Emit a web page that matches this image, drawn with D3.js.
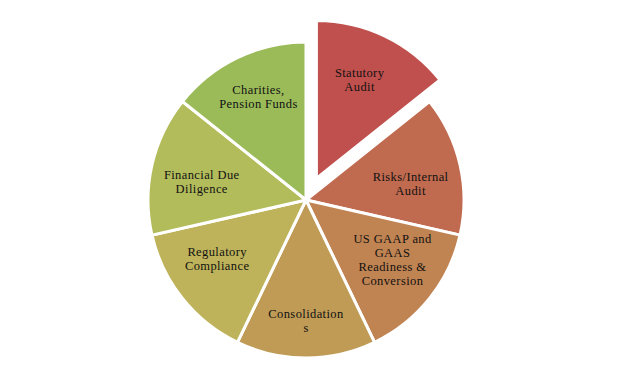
<!DOCTYPE html>
<html><head><meta charset="utf-8">
<script src="https://cdn.jsdelivr.net/npm/d3@7"></script>
<style>body{margin:0;background:#fff}svg{display:block}</style>
</head><body><svg id="c" width="620" height="382"></svg>
<script>
const categories = ["Statutory Audit","Risks/Internal Audit","US GAAP and GAAS Readiness & Conversion","Consolidations","Regulatory Compliance","Financial Due Diligence","Charities, Pension Funds"];
const labelLines = [["Statutory","Audit"],["Risks/Internal","Audit"],["US GAAP and","GAAS","Readiness &","Conversion"],["Consolidation","s"],["Regulatory","Compliance"],["Financial Due","Diligence"],["Charities,","Pension Funds"]];
const values = [1,1,1,1,1,1,1];
const colors = ["#C0504D","#C06A4F","#C08352","#BF9B56","#BEB35A","#B3BC5B","#9BBB59"];
const exploded = [true,false,false,false,false,false,false];

const svg = d3.select("#c");
const cx = 306, cy = 200, r = 158, explode = 24;
const pie = d3.pie().sort(null).value(d=>d)(values);
const arc = d3.arc().innerRadius(0).outerRadius(r);
const g = svg.append("g").attr("transform",`translate(${cx},${cy})`);
const slices = g.selectAll("g.s").data(pie).join("g").attr("class","s")
  .attr("transform",(d,i)=>{
    if(!exploded[i]) return null;
    const a=(d.startAngle+d.endAngle)/2;
    return `translate(${explode*Math.sin(a)},${-explode*Math.cos(a)})`;
  });
slices.append("path").attr("d",arc).attr("fill",(d,i)=>colors[i])
  .attr("stroke","#fff").attr("stroke-width",3).attr("stroke-linejoin","miter");
const lh = 14;
const labelR = [0.68,0.67,0.665,0.765,0.675,0.67,0.72];
const labelA = [-2,4,-4,0,5,-3,1];
slices.each(function(d,i){
  const a=(d.startAngle+d.endAngle)/2 + labelA[i]*Math.PI/180;
  const lr = r*labelR[i];
  const x = lr*Math.sin(a), y = -lr*Math.cos(a);
  const lines = labelLines[i];
  const t = d3.select(this).append("text").attr("text-anchor","middle")
    .attr("font-family","'Liberation Serif','DejaVu Serif',serif").attr("font-size","12.5px")
    .attr("letter-spacing","0.4px").attr("fill","#111");
  lines.forEach((s,k)=>{
    t.append("tspan").attr("x",x).attr("y",y+(k-(lines.length-1)/2)*lh+4).text(s);
  });
});
</script></body></html>
